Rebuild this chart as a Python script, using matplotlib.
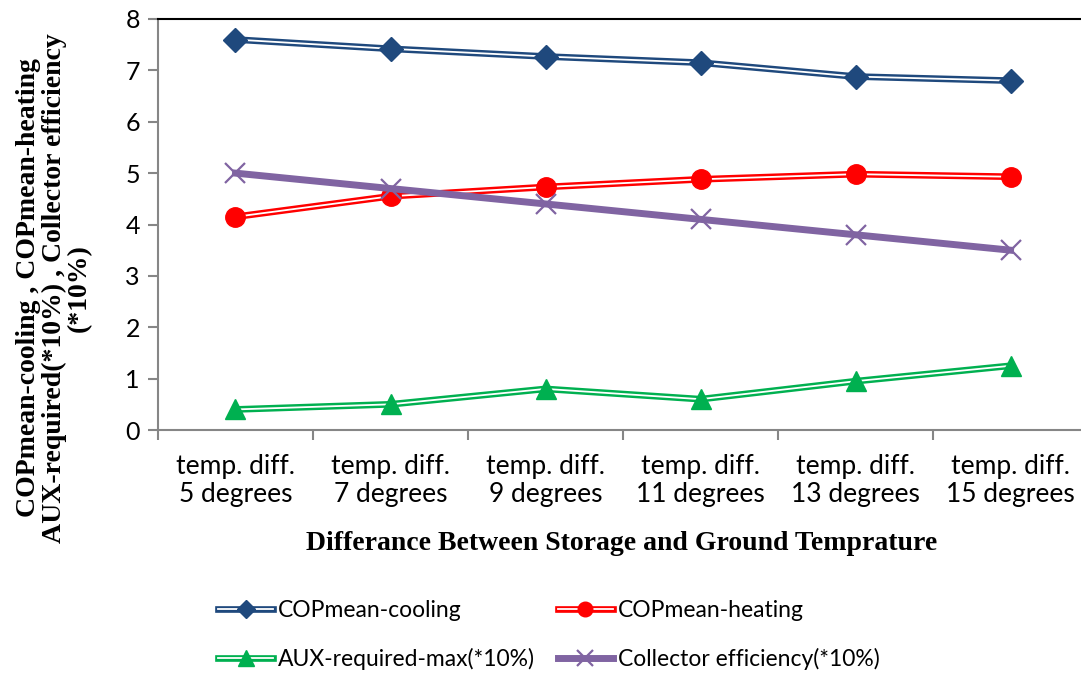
import matplotlib
matplotlib.use("Agg")
import matplotlib.pyplot as plt
from matplotlib.lines import Line2D
from matplotlib.legend_handler import HandlerTuple
import numpy as np

CATEGORIES = ["temp. diff.\n5 degrees", "temp. diff.\n7 degrees", "temp. diff.\n9 degrees",
              "temp. diff.\n11 degrees", "temp. diff.\n13 degrees", "temp. diff.\n15 degrees"]
COP_COOLING = [7.6, 7.42, 7.27, 7.15, 6.88, 6.8]
COP_HEATING = [4.15, 4.55, 4.73, 4.88, 4.98, 4.93]
AUX_REQUIRED = [0.4, 0.5, 0.8, 0.6, 0.95, 1.25]
COLLECTOR_EFF = [5.0, 4.7, 4.4, 4.1, 3.8, 3.5]

BLUE, RED, GREEN, PURPLE = "#1f497d", "#ff0000", "#00b050", "#8064a2"
GRAY = "#868686"
SANS = "Lato"
SERIF = "Liberation Serif"

fig = plt.figure(figsize=(10.81, 6.75), dpi=100)
ax = fig.add_axes([158 / 1081, 1 - 430 / 675, 930 / 1081, 411 / 675])

x = np.arange(len(CATEGORIES))


def double_line(values, color, marker, ms):
    ax.plot(x, values, color=color, lw=4.8, solid_capstyle="butt", zorder=3)
    ax.plot(x, values, color="white", lw=1.3, solid_capstyle="butt", zorder=4)
    ax.plot(x, values, ls="none", marker=marker, ms=ms, color=color, zorder=5)
    return (Line2D([], [], color=color, lw=4.8),
            Line2D([], [], color="white", lw=1.3),
            Line2D([], [], ls="none", marker=marker, ms=ms * 0.75, color=color))


h_cool = double_line(COP_COOLING, BLUE, "D", 12)
h_heat = double_line(COP_HEATING, RED, "o", 14)
h_aux = double_line(AUX_REQUIRED, GREEN, "^", 15)

ax.plot(x, COLLECTOR_EFF, color=PURPLE, lw=5, marker="x", ms=15, mew=1.6, zorder=6)
h_coll = (Line2D([], [], color=PURPLE, lw=5, marker="x", ms=11, mew=1.6),)

ax.set_xlim(-0.5, 5.5)
ax.set_ylim(0, 8)
ax.set_yticks(range(0, 9))
ax.set_xticks(np.arange(-0.5, 6.0, 1.0))
ax.set_xticklabels([])
ax.set_xticks(x, CATEGORIES, minor=True)
ax.tick_params(axis="x", which="minor", length=0, pad=17, labelsize=19)
ax.tick_params(axis="x", which="major", length=7, width=1.5, color=GRAY, direction="out")
ax.tick_params(axis="y", length=7, width=1.5, color=GRAY, direction="out", pad=6, labelsize=18)
for lab in ax.get_xticklabels(minor=True):
    lab.set_fontfamily(SANS)
    lab.set_linespacing(1.15)
for lab in ax.get_yticklabels():
    lab.set_fontfamily(SANS)

for side in ("left", "bottom"):
    ax.spines[side].set_color(GRAY)
    ax.spines[side].set_linewidth(1.5)
ax.spines["right"].set_visible(False)
ax.spines["top"].set_color("black")
ax.spines["top"].set_linewidth(1.5)

fig.text(54 / 1081, 1 - 288 / 675,
         "COPmean-cooling , COPmean-heating\nAUX-required(*10%) , Collector efficiency\n(*10%)",
         rotation=90, ha="center", va="center", multialignment="center",
         fontfamily=SERIF, fontweight="bold", fontsize=20, linespacing=1.0)
fig.text(622 / 1081, 1 - 543 / 675, "Differance Between Storage and Ground Temprature",
         ha="center", va="center", fontfamily=SERIF, fontweight="bold", fontsize=20)

# row-wise reading order: matplotlib fills legend columns first
fig.legend([h_cool, h_aux, h_heat, h_coll],
           ["COPmean-cooling", "AUX-required-max(*10%)", "COPmean-heating",
            "Collector efficiency(*10%)"],
           handler_map={tuple: HandlerTuple(ndivide=1, pad=0)},
           loc="center left", bbox_to_anchor=(218 / 1081, 1 - 635 / 675), ncol=2,
           frameon=False, prop={"family": SANS, "size": 16.5}, handlelength=2.4,
           handletextpad=0.22, columnspacing=1.0, labelspacing=1.18, borderpad=0,
           borderaxespad=0)

fig.savefig("out.png", dpi=100)
